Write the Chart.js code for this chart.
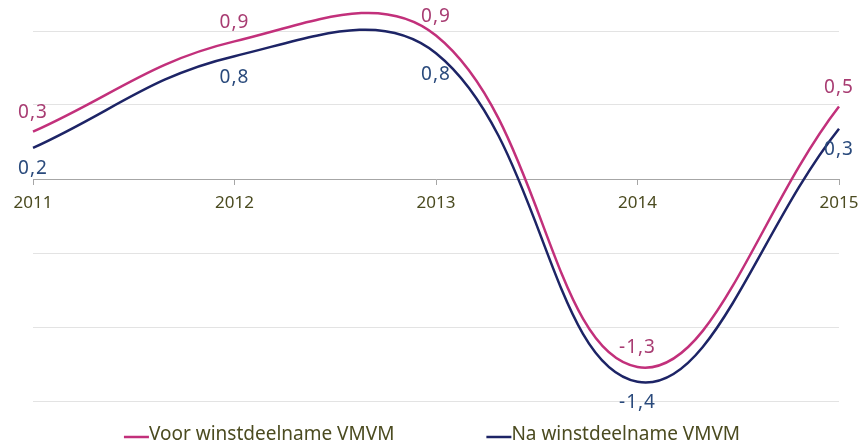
<!DOCTYPE html>
<html>
<head>
<meta charset="utf-8">
<script src="https://cdn.jsdelivr.net/npm/chart.js@4/dist/chart.umd.min.js"></script>
<style>
  html, body { margin: 0; padding: 0; background: #ffffff; }
  #wrap { width: 860px; height: 445px; position: relative; }
</style>
</head>
<body>
<div id="wrap"><canvas id="c"></canvas></div>
<script>
const categories = ['2011', '2012', '2013', '2014', '2015'];
const voorValues = [0.32, 0.93, 0.97, -1.27, 0.49];
const naValues = [0.21, 0.83, 0.85, -1.37, 0.34];
const voorLabels = ['0,3', '0,9', '0,9', '-1,3', '0,5'];
const naLabels = ['0,2', '0,8', '0,8', '-1,4', '0,3'];
const seriesNames = ['Voor winstdeelname VMVM', 'Na winstdeelname VMVM'];

const FONT = "'Noto Sans', 'DejaVu Sans', sans-serif";
const pink = '#C2307B';
const navy = '#1D2466';
const pinkText = '#A83C72';
const navyText = '#2A4A7C';
const olive = '#4B4B20';

const valueLabels = {
  id: 'valueLabels',
  afterDatasetsDraw(chart) {
    const ctx = chart.ctx;
    ctx.save();
    ctx.font = '19px ' + FONT;
    ctx.textAlign = 'center';
    ctx.textBaseline = 'middle';
    try { ctx.letterSpacing = '1px'; } catch (e) {}
    chart.data.datasets.forEach((ds, i) => {
      const meta = chart.getDatasetMeta(i);
      const above = i === 0;
      ctx.fillStyle = ds.labelColor;
      meta.data.forEach((pt, j) => {
        const y = above ? pt.y - 19 : pt.y + 21;
        ctx.fillText(ds.labelTexts[j], pt.x, y);
      });
    });
    ctx.restore();
  }
};

const customLegend = {
  id: 'customLegend',
  afterDraw(chart) {
    const ctx = chart.ctx;
    ctx.save();
    ctx.font = '19px ' + FONT;
    ctx.textBaseline = 'middle';
    const lineLen = 25, gap = 92;
    const items = chart.data.datasets.map(ds => ({
      text: ds.label, color: ds.borderColor,
      w: lineLen + ctx.measureText(ds.label).width
    }));
    const total = items.reduce((s, it) => s + it.w, 0) + gap * (items.length - 1);
    let x = (chart.width - total) / 2 + 2;
    const y = 435;
    items.forEach(it => {
      ctx.strokeStyle = it.color;
      ctx.lineWidth = 2.5;
      ctx.beginPath();
      ctx.moveTo(x, y + 2);
      ctx.lineTo(x + lineLen, y + 2);
      ctx.stroke();
      ctx.fillStyle = olive;
      ctx.fillText(it.text, x + lineLen, y);
      x += it.w + gap;
    });
    ctx.restore();
  }
};

new Chart(document.getElementById('c'), {
  type: 'line',
  data: {
    labels: categories,
    datasets: [
      { label: seriesNames[0], data: voorValues, borderColor: pink, backgroundColor: pink,
        labelTexts: voorLabels, labelColor: pinkText },
      { label: seriesNames[1], data: naValues, borderColor: navy, backgroundColor: navy,
        labelTexts: naLabels, labelColor: navyText }
    ]
  },
  options: {
    responsive: true,
    maintainAspectRatio: false,
    animation: false,
    devicePixelRatio: 1,
    clip: false,
    layout: { padding: { left: 33, right: 21, top: 31, bottom: 44 } },
    elements: {
      line: { tension: 0.4, borderWidth: 2.5, capBezierPoints: false, fill: false },
      point: { radius: 0, hoverRadius: 0 }
    },
    plugins: { legend: { display: false }, tooltip: { enabled: false } },
    scales: {
      x: {
        position: { y: 0 },
        offset: false,
        afterFit(scale) { scale.paddingLeft = 0; scale.paddingRight = 0; },
        grid: { drawOnChartArea: false, drawTicks: true, tickLength: 5, color: '#A6A6A6' },
        border: { display: true, color: '#A6A6A6', width: 1 },
        ticks: { color: olive, font: { family: FONT, size: 17 }, padding: 9, maxRotation: 0, autoSkip: false }
      },
      y: {
        min: -1.5, max: 1.0,
        grid: { color: '#E3E3E3', drawTicks: false, lineWidth: 1 },
        border: { display: false },
        ticks: { display: false, stepSize: 0.5 }
      }
    }
  },
  plugins: [valueLabels, customLegend]
});
</script>
</body>
</html>
